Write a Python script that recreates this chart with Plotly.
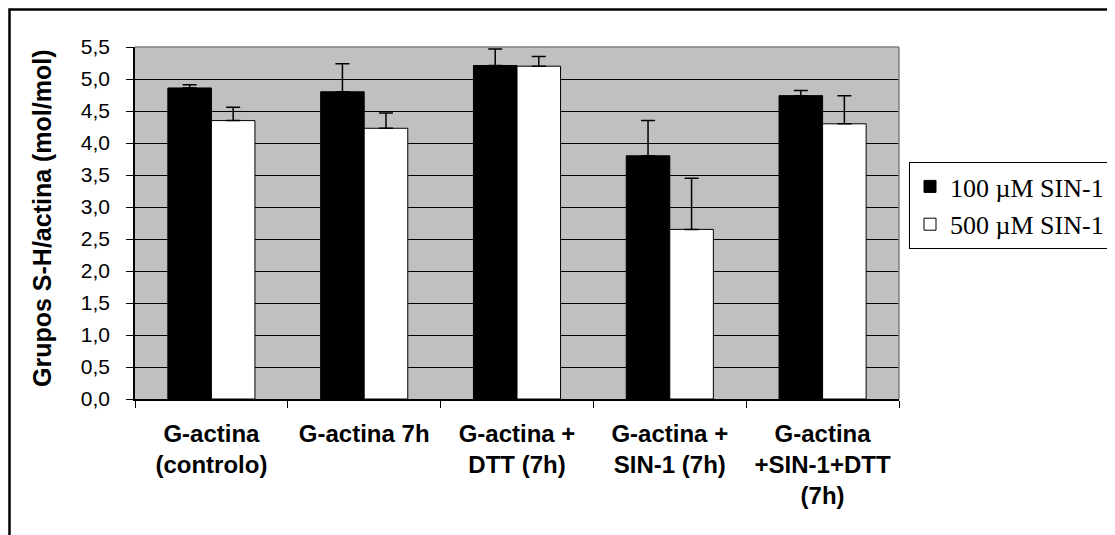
import plotly.graph_objects as go

categories = [
    "G-actina<br>(controlo)",
    "G-actina 7h",
    "G-actina +<br>DTT (7h)",
    "G-actina +<br>SIN-1 (7h)",
    "G-actina<br>+SIN-1+DTT<br>(7h)",
]
series_names = ["100 µM SIN-1", "500 µM SIN-1"]
values_100 = [4.86, 4.80, 5.21, 3.80, 4.74]
errors_100 = [0.05, 0.44, 0.26, 0.55, 0.08]
values_500 = [4.35, 4.23, 5.20, 2.65, 4.30]
errors_500 = [0.21, 0.24, 0.15, 0.80, 0.44]
y_tick_values = [0, 0.5, 1, 1.5, 2, 2.5, 3, 3.5, 4, 4.5, 5, 5.5]

W, H = 1115, 535
OFF = 8  # page body margin
L, R, T, B = 135 - OFF, W - (899 - OFF), 47 - OFF, H - (399 - OFF)
pw, ph = W - L - R, H - T - B


def px_x(p):
    return (p - OFF - L) / pw


def px_y(p):
    return (H - B - (p - OFF)) / ph


fig = go.Figure()
fig.add_trace(go.Bar(
    x=categories, y=values_100, name=series_names[0],
    marker=dict(color="black", line=dict(color="black", width=1)),
    error_y=dict(type="data", array=errors_100, arrayminus=[0] * 5, symmetric=False,
                 color="black", thickness=1.5, width=7),
    legendgroup="a",
))
fig.add_trace(go.Bar(
    x=categories, y=values_500, name=series_names[1],
    marker=dict(color="white", line=dict(color="black", width=1)),
    error_y=dict(type="data", array=errors_500, arrayminus=[0] * 5, symmetric=False,
                 color="black", thickness=1.5, width=7),
    legendgroup="b",
))

fig.update_layout(
    width=W, height=H,
    margin=dict(l=L, r=R, t=T, b=B, autoexpand=False),
    paper_bgcolor="white",
    plot_bgcolor="#C0C0C0",
    separators=", ",
    barmode="group",
    bargap=0.43,
    bargroupgap=0,
    font=dict(family="Liberation Sans, Arial", color="black"),
    showlegend=True,
    legend=dict(
        x=px_x(909), y=px_y(162), xanchor="left", yanchor="top",
        font=dict(family="Liberation Serif, Times New Roman", size=26, color="black"),
        bordercolor="black", borderwidth=1, bgcolor="white",
        traceorder="grouped", tracegroupgap=1,
        itemclick=False,
    ),
    xaxis=dict(
        type="category",
        showline=True, linecolor="black", linewidth=1.5,
        ticks="outside", tickson="boundaries", ticklen=7, tickcolor="black", tickwidth=1,
        tickfont=dict(family="Liberation Sans, Arial", size=24, color="black", weight="bold"),
        ticklabelstandoff=12,
        showgrid=False,
    ),
    yaxis=dict(
        range=[0, 5.5],
        tickvals=y_tick_values,
        tickformat=".1f",
        showline=True, linecolor="black", linewidth=1.5,
        ticks="outside", ticklen=7, tickcolor="black", tickwidth=1,
        tickfont=dict(family="Liberation Sans, Arial", size=21, color="black"),
        ticklabelstandoff=12,
        showgrid=True, gridcolor="black", gridwidth=1,
        zeroline=False,
    ),
    annotations=[dict(
        text="<b>Grupos S-H/actina (mol/mol)</b>",
        xref="paper", yref="paper",
        x=px_x(42), y=px_y(218), xanchor="center", yanchor="middle",
        textangle=-90, showarrow=False,
        font=dict(family="Liberation Sans, Arial", size=25, color="black"),
    )],
    shapes=[
        dict(type="line", xref="paper", yref="paper", x0=0, x1=1, y0=1, y1=1,
             line=dict(color="#808080", width=1.5)),
        dict(type="line", xref="paper", yref="paper", x0=1, x1=1, y0=0, y1=1,
             line=dict(color="#808080", width=1.5)),
        dict(type="rect", xref="paper", yref="paper",
             x0=px_x(9.5), x1=px_x(1135), y0=px_y(560), y1=px_y(9.5),
             line=dict(color="black", width=2.5), fillcolor="rgba(0,0,0,0)"),
    ],
)

fig.write_html("out.html")
